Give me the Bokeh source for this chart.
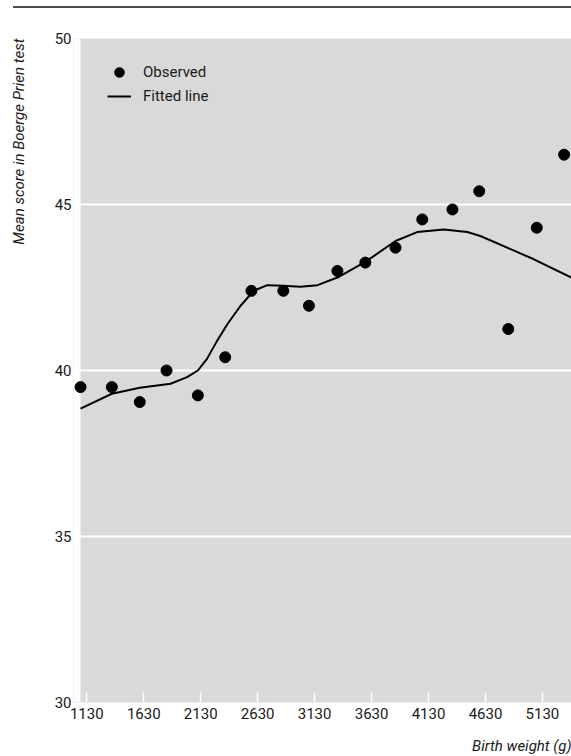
from bokeh.plotting import figure
from bokeh.models import (FixedTicker, BoxAnnotation, Legend, LegendItem,
                          Div, BasicTickFormatter, Title)
from bokeh.layouts import column
from bokeh.embed import file_html
from bokeh.resources import INLINE

# ---- data ----
obs_x = [1075, 1350, 1595, 1830, 2105, 2345, 2575, 2855, 3080,
         3330, 3575, 3840, 4075, 4340, 4575, 4830, 5080, 5320]
obs_y = [39.5, 39.5, 39.05, 40.0, 39.25, 40.4, 42.4, 42.4, 41.95,
         43.0, 43.25, 43.7, 44.55, 44.85, 45.4, 41.25, 44.3, 46.5]

fit_x = [1075, 1350, 1595, 1865, 2010, 2105, 2185, 2275, 2365, 2480, 2595,
         2715, 2855, 3005, 3155, 3330, 3575, 3840, 4030, 4265, 4470, 4585,
         4820, 5055, 5385]
fit_y = [38.85, 39.3, 39.48, 39.6, 39.8, 40.0, 40.35, 40.9, 41.4, 41.95, 42.4,
         42.57, 42.55, 42.52, 42.57, 42.8, 43.27, 43.9, 44.17, 44.25, 44.17, 44.05,
         43.7, 43.35, 42.8]

x_ticks = [1130, 1630, 2130, 2630, 3130, 3630, 4130, 4630, 5130]
y_ticks = [30, 35, 40, 45, 50]
y_grid = [35, 40, 45]

FONT = "Roboto, 'Liberation Sans', sans-serif"
TXT = "#1a1a1a"
FS = "15px"

p = figure(width=571, height=748, x_range=(1013.25, 5385), y_range=(30, 50),
           output_backend="svg", toolbar_location=None,
           min_border_left=73, min_border_right=0, min_border_top=30, min_border_bottom=52,
           background_fill_color="#d9d9d9", border_fill_color="white",
           outline_line_color=None)

p.xgrid.visible = False
p.ygrid.ticker = FixedTicker(ticks=y_grid)
p.ygrid.grid_line_color = "white"
p.ygrid.grid_line_width = 2

# white strip left of the data area (lets the first marker overhang the grey panel)
strip = BoxAnnotation(right=1074.7, fill_color="white", fill_alpha=1.0,
                      line_color=None, level="underlay")
p.add_layout(strip)

xa = p.xaxis[0]
xa.ticker = FixedTicker(ticks=x_ticks)
xa.formatter = BasicTickFormatter(use_scientific=False)
xa.axis_line_color = None
xa.major_tick_in = 10
xa.major_tick_out = 0
xa.major_tick_line_color = "white"
xa.major_tick_line_width = 1.5
xa.minor_tick_line_color = None
xa.major_label_standoff = 5
xa.major_label_text_font = FONT
xa.major_label_text_font_size = FS
xa.major_label_text_color = TXT

ya = p.yaxis[0]
ya.ticker = FixedTicker(ticks=y_ticks)
ya.axis_line_color = None
ya.major_tick_in = 0
ya.major_tick_out = 0
ya.minor_tick_line_color = None
ya.major_label_standoff = 2
ya.major_label_text_font = FONT
ya.major_label_text_font_size = FS
ya.major_label_text_color = TXT

fit_r = p.line(fit_x, fit_y, line_color="black", line_width=2)
obs_r = p.scatter(obs_x, obs_y, size=11, fill_color="black", line_color="black")

legend = Legend(items=[LegendItem(label="Observed", renderers=[obs_r]),
                       LegendItem(label="Fitted line", renderers=[fit_r])],
                location=(34, 594), orientation="vertical",
                background_fill_alpha=0, border_line_color=None,
                padding=0, margin=0, spacing=0,
                glyph_width=24, glyph_height=24, label_height=24,
                label_standoff=12, label_text_font=FONT,
                label_text_font_size=FS, label_text_color=TXT)
p.add_layout(legend)

# spacers (tiny blank titles) push the axis titles outward
p.add_layout(Title(text=" ", text_font_size="1px", standoff=13), "left")
p.add_layout(Title(text="Mean score in Boerge Prien test", align="right",
                   text_font=FONT, text_font_style="italic", text_font_size=FS,
                   text_color=TXT, standoff=15), "left")

p.add_layout(Title(text=" ", text_font_size="1px", standoff=8), "below")
p.add_layout(Title(text="Birth weight (g)", align="right",
                   text_font=FONT, text_font_style="italic", text_font_size=FS,
                   text_color=TXT, standoff=4), "below")

bar = Div(text="", width=558, height=2, margin=(6, 0, 0, 13),
          styles={"background-color": "#4d4d4d"})

layout = column(bar, p, spacing=0)

open("out.html", "w").write(file_html(layout, INLINE))
